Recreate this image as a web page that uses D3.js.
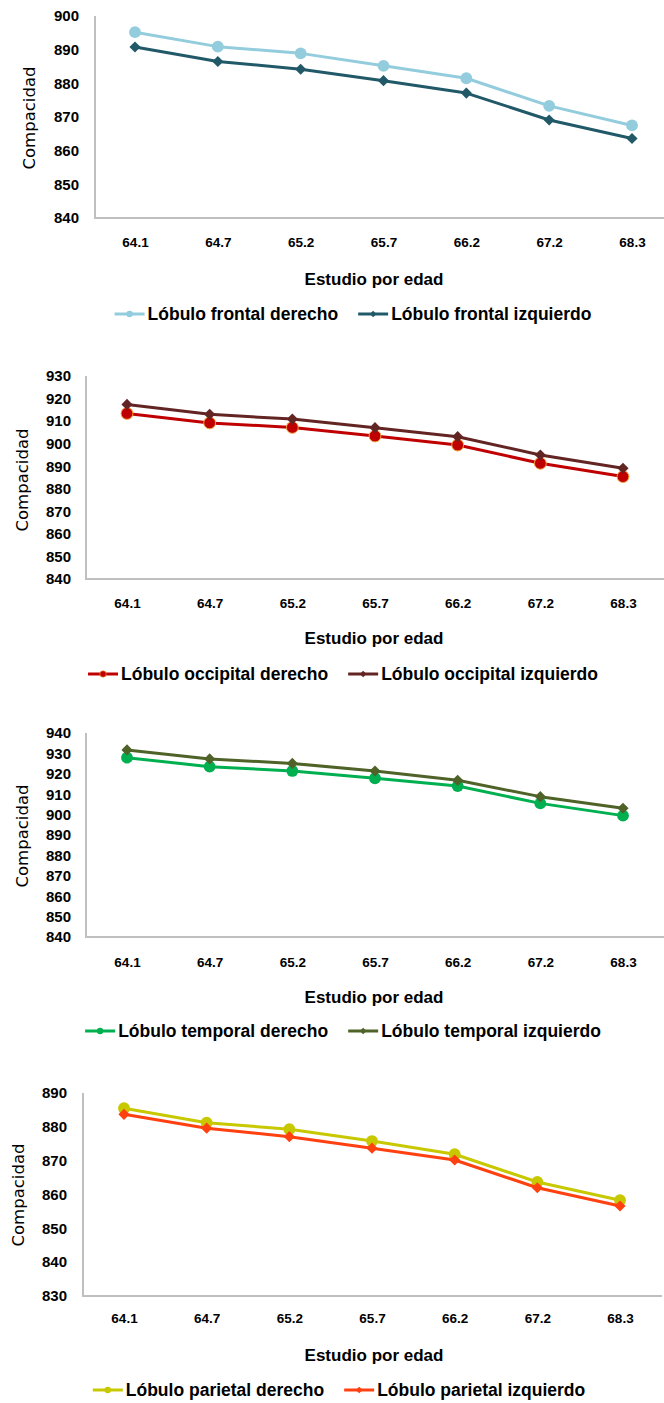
<!DOCTYPE html>
<html>
<head>
<meta charset="utf-8">
<script src="https://cdn.jsdelivr.net/npm/d3@7"></script>
<style>
  html, body { margin: 0; padding: 0; background: #fff; }
  svg { display: block; }
</style>
</head>
<body>
<svg id="chart" width="664" height="1403"></svg>
<script>
// Age groups (x axis categories)
const edades = ["64.1", "64.7", "65.2", "65.7", "66.2", "67.2", "68.3"];

// Compactness per lobe and hemisphere
const frontalDerecho     = [895.2, 890.9, 888.9, 885.2, 881.5, 873.3, 867.5];
const frontalIzquierdo   = [890.8, 886.5, 884.2, 880.8, 877.1, 869.1, 863.6];
const occipitalDerecho   = [913.4, 909.2, 907.2, 903.4, 899.4, 891.3, 885.4];
const occipitalIzquierdo = [917.4, 913.0, 910.9, 907.1, 903.1, 895.0, 889.1];
const temporalDerecho    = [927.9, 923.5, 921.4, 917.8, 914.0, 905.5, 899.5];
const temporalIzquierdo  = [931.7, 927.3, 925.1, 921.4, 916.8, 908.8, 903.1];
const parietalDerecho    = [885.5, 881.2, 879.3, 875.8, 871.9, 863.7, 858.3];
const parietalIzquierdo  = [883.7, 879.6, 877.1, 873.7, 870.2, 862.0, 856.6];

// Y-axis tick labels per chart
const ticksFrontal   = [840, 850, 860, 870, 880, 890, 900];
const ticksOccipital = [840, 850, 860, 870, 880, 890, 900, 910, 920, 930];
const ticksTemporal  = [840, 850, 860, 870, 880, 890, 900, 910, 920, 930, 940];
const ticksParietal  = [830, 840, 850, 860, 870, 880, 890];

const ejeX = "Estudio por edad";
const ejeY = "Compacidad";

const panels = [
  {
    ticks: ticksFrontal,
    series: [
      { name: "Lóbulo frontal derecho", values: frontalDerecho, color: "#93cddd", marker: "circle" },
      { name: "Lóbulo frontal izquierdo", values: frontalIzquierdo, color: "#215968", marker: "diamond" }
    ],
    layout: { axisX: 95, top: 16, bottom: 218, x0: 135, x1: 632, right: 664, tickRight: 79,
              xTickY: 245, titleY: 279, legendY: 314, ylabX: 29, ylabY: 118, legendCx: 353 }
  },
  {
    ticks: ticksOccipital,
    series: [
      { name: "Lóbulo occipital derecho", values: occipitalDerecho, color: "#c00000", marker: "circle", halo: "#f2a33a" },
      { name: "Lóbulo occipital izquierdo", values: occipitalIzquierdo, color: "#632523", marker: "diamond" }
    ],
    layout: { axisX: 86, top: 376, bottom: 579, x0: 127, x1: 623, right: 664, tickRight: 71,
              xTickY: 606, titleY: 638, legendY: 674, ylabX: 22, ylabY: 480, legendCx: 343 }
  },
  {
    ticks: ticksTemporal,
    series: [
      { name: "Lóbulo temporal derecho", values: temporalDerecho, color: "#00b050", marker: "circle" },
      { name: "Lóbulo temporal izquierdo", values: temporalIzquierdo, color: "#4f6228", marker: "diamond" }
    ],
    layout: { axisX: 86, top: 733, bottom: 937, x0: 127, x1: 623, right: 664, tickRight: 71,
              xTickY: 965, titleY: 997, legendY: 1031, ylabX: 22, ylabY: 836, legendCx: 343 }
  },
  {
    ticks: ticksParietal,
    series: [
      { name: "Lóbulo parietal derecho", values: parietalDerecho, color: "#c8c800", marker: "circle" },
      { name: "Lóbulo parietal izquierdo", values: parietalIzquierdo, color: "#ff4010", marker: "diamond" }
    ],
    layout: { axisX: 83, top: 1093, bottom: 1296, x0: 124, x1: 620, right: 662, tickRight: 67,
              xTickY: 1321, titleY: 1355, legendY: 1390, ylabX: 18, ylabY: 1195, legendCx: 339 }
  }
];

const narrow = "'Liberation Sans Narrow', 'Arial Narrow', 'Liberation Sans', sans-serif";
const svg = d3.select("#chart");

function drawMarker(g, s, x, y, big) {
  const shape = s.marker === "circle" ? d3.symbolCircle : d3.symbolSquare;
  const size = s.marker === "circle" ? (big ? 110 : 32) : (big ? 62 : 22);
  const m = g.append("path")
    .attr("d", d3.symbol(shape, size)())
    .attr("transform", `translate(${x},${y})` + (s.marker === "diamond" ? " rotate(45)" : ""))
    .attr("fill", s.color);
  if (s.halo) m.attr("stroke", s.halo).attr("stroke-width", big ? 1 : 0.6);
  return m;
}

panels.forEach(p => {
  const L = p.layout;
  const g = svg.append("g");

  const x = d3.scalePoint().domain(edades).range([L.x0, L.x1]);
  const y = d3.scaleLinear()
    .domain([d3.min(p.ticks), d3.max(p.ticks)])
    .range([L.bottom, L.top]);

  // Axis lines
  g.append("line")
    .attr("x1", L.axisX).attr("x2", L.axisX)
    .attr("y1", L.top).attr("y2", L.bottom)
    .attr("stroke", "#bfbfbf").attr("stroke-width", 2);
  g.append("line")
    .attr("x1", L.axisX - 1).attr("x2", L.right)
    .attr("y1", L.bottom).attr("y2", L.bottom)
    .attr("stroke", "#bfbfbf").attr("stroke-width", 2);

  // Y tick labels
  const yAxis = g.append("g")
    .attr("transform", `translate(${L.tickRight},0)`)
    .call(d3.axisLeft(y).tickValues(p.ticks).tickSize(0).tickPadding(0).tickFormat(d3.format("d")));
  yAxis.select(".domain").remove();
  yAxis.selectAll("text")
    .attr("font-family", "'Liberation Sans', Arial, sans-serif")
    .attr("font-weight", "bold")
    .attr("font-size", 15)
    .attr("fill", "#000");

  // X tick labels
  const xAxis = g.append("g")
    .attr("transform", `translate(0,${L.xTickY - 8})`)
    .call(d3.axisBottom(x).tickSize(0).tickPadding(0));
  xAxis.select(".domain").remove();
  xAxis.selectAll("text")
    .attr("font-family", narrow)
    .attr("font-weight", "bold")
    .attr("font-size", 13.5)
    .attr("fill", "#000");

  // Axis titles
  g.append("text")
    .attr("x", 374).attr("y", L.titleY)
    .attr("text-anchor", "middle").attr("dominant-baseline", "central")
    .attr("font-family", narrow).attr("font-weight", "bold").attr("font-size", 17)
    .attr("fill", "#000")
    .text(ejeX);
  g.append("text")
    .attr("transform", `translate(${L.ylabX},${L.ylabY}) rotate(-90)`)
    .attr("text-anchor", "middle").attr("dominant-baseline", "central")
    .attr("font-family", "'DejaVu Sans', Verdana, sans-serif").attr("font-size", 16.5)
    .attr("fill", "#000")
    .text(ejeY);

  // Series lines and markers
  const line = d3.line()
    .x((d, i) => x(edades[i]))
    .y(d => y(d));
  p.series.forEach(s => {
    g.append("path")
      .attr("d", line(s.values))
      .attr("fill", "none")
      .attr("stroke", s.color)
      .attr("stroke-width", 3)
      .attr("stroke-linejoin", "round");
    s.values.forEach((v, i) => drawMarker(g, s, x(edades[i]), y(v), true));
  });

  // Legend
  const lg = g.append("g");
  const items = p.series.map(s => {
    const it = lg.append("g");
    it.append("line")
      .attr("x1", 0).attr("x2", 30).attr("y1", 0).attr("y2", 0)
      .attr("stroke", s.color).attr("stroke-width", 3);
    drawMarker(it, s, 15, 0, false);
    const t = it.append("text")
      .attr("x", 33).attr("y", 0)
      .attr("dominant-baseline", "central")
      .attr("font-family", narrow).attr("font-weight", "bold").attr("font-size", 17.5)
      .attr("fill", "#000")
      .text(s.name);
    return { g: it, w: 33 + t.node().getComputedTextLength() };
  });
  const gap = 20;
  const total = d3.sum(items, d => d.w) + gap * (items.length - 1);
  let cx = L.legendCx - total / 2;
  items.forEach(it => {
    it.g.attr("transform", `translate(${cx},${L.legendY})`);
    cx += it.w + gap;
  });
});
</script>
</body>
</html>
